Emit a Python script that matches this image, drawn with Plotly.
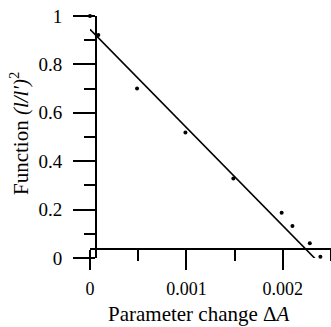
import plotly.graph_objects as go

# Data
delta_a = [0.0, 0.000086, 0.000488, 0.00099, 0.001487, 0.001988, 0.0021, 0.00228, 0.00239]
func_vals = [1.0, 0.921, 0.70, 0.519, 0.329, 0.187, 0.132, 0.061, 0.005]

fit_x = [0.0, 0.00241]
fit_y = [0.945, -0.033]

x_tickvals = [0, 0.001, 0.002]
x_ticktext = ["0", "0.001", "0.002"]
y_tickvals = [0, 0.2, 0.4, 0.6, 0.8, 1.0]
y_ticktext = ["0", "0.2", "0.4", "0.6", "0.8", "1"]

W, H = 331, 327
L, R, T, B = 90, 0, 16, 69
plot_w = W - L - R
plot_h = H - T - B

font = dict(family="Liberation Serif, Times New Roman, serif", size=19, color="black")
xfont = dict(family="Liberation Serif, Times New Roman, serif", size=18, color="black")
title_font = dict(family="Liberation Serif, Times New Roman, serif", size=21, color="black")

fig = go.Figure()
fig.add_trace(go.Scatter(x=fit_x, y=fit_y, mode="lines",
                         line=dict(color="black", width=1.6),
                         cliponaxis=False, showlegend=False))
fig.add_trace(go.Scatter(x=delta_a, y=func_vals, mode="markers",
                         marker=dict(color="black", size=4),
                         cliponaxis=False, showlegend=False))

fig.update_layout(
    width=W, height=H,
    margin=dict(l=L, r=R, t=T, b=B, pad=0, autoexpand=False),
    plot_bgcolor="white", paper_bgcolor="white",
    font=font,
    xaxis=dict(range=[0, 0.0025], domain=[0, 1], anchor="free",
               position=(258 - 248.5) / plot_h, automargin=False,
               showgrid=False, zeroline=False,
               showline=True, linecolor="black", linewidth=2,
               ticks="outside", ticklen=20, tickwidth=2, tickcolor="black",
               tickvals=x_tickvals, ticktext=x_ticktext,
               ticklabelstandoff=4,
               minor=dict(dtick=0.0005, tick0=0, ticks="outside", ticklen=11,
                          tickwidth=2, tickcolor="black", showgrid=False),
               tickfont=xfont),
    yaxis=dict(range=[0, 1], domain=[0, 1], anchor="free",
               position=(96 - 90) / plot_w, automargin=False,
               showgrid=False, zeroline=False,
               showline=True, linecolor="black", linewidth=2,
               ticks="outside", ticklen=22, tickwidth=2, tickcolor="black",
               tickvals=y_tickvals, ticktext=y_ticktext,
               ticklabelstandoff=7,
               minor=dict(dtick=0.1, tick0=0, ticks="outside", ticklen=11,
                          tickwidth=1.5, tickcolor="black", showgrid=False),
               tickfont=font),
    annotations=[
        dict(text="Parameter change Δ<i>A</i>", xref="paper", yref="paper",
             x=(199 - 90) / plot_w, y=(258 - 314) / plot_h,
             xanchor="center", yanchor="middle", showarrow=False, font=title_font),
        dict(text="Function <i>(l/l′)</i><sup>2</sup>", xref="paper", yref="paper",
             x=(19 - 90) / plot_w, y=(258 - 134) / plot_h, textangle=-90,
             xanchor="center", yanchor="middle", showarrow=False, font=title_font),
    ],
)

fig.write_html("out.html", config={"displayModeBar": False},
               post_script="document.body.style.margin='0';")
